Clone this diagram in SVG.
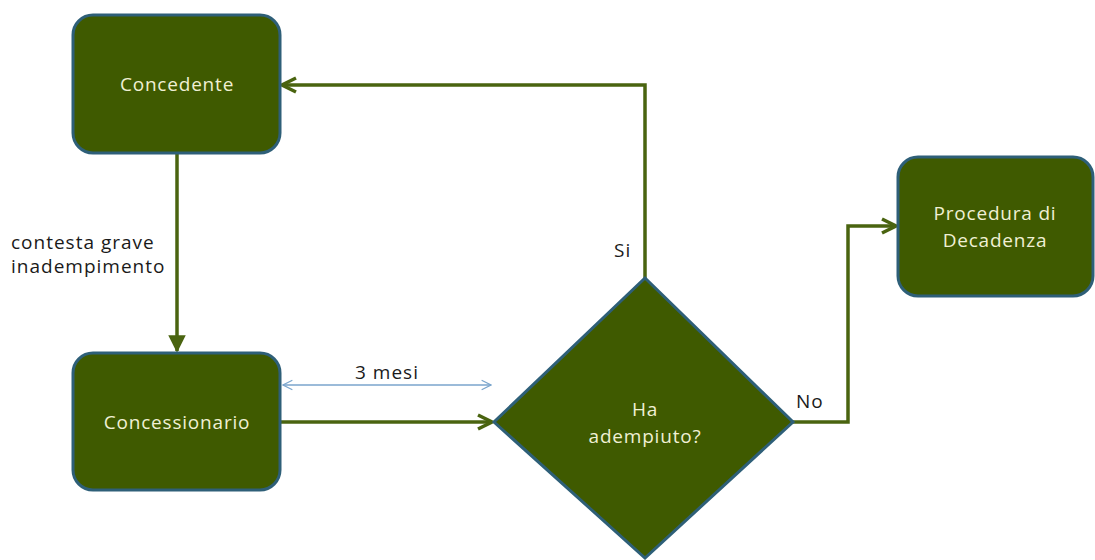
<svg xmlns="http://www.w3.org/2000/svg" width="1095" height="560" viewBox="0 0 1095 560">
<style>
.node{fill:#3f5a00;stroke:#2e5f78;stroke-width:3}
.nt{font-family:"Open Sans","Liberation Sans",sans-serif;font-size:19px;letter-spacing:0.8px;fill:#f0f0d4;text-anchor:middle}
.lt{font-family:"Open Sans","Liberation Sans",sans-serif;font-size:19px;letter-spacing:1px;fill:#1a1a1a}
.conn{fill:none;stroke:#4a6410;stroke-width:3.5}
.dim{fill:none;stroke:#7aa5cc;stroke-width:1.3}
</style>
<defs>
<marker id="ah" viewBox="0 0 10 10" refX="9" refY="5" markerWidth="5" markerHeight="5" markerUnits="strokeWidth" orient="auto">
<path d="M1,1 L9,5 L1,9" fill="none" stroke="#4a6410" stroke-width="2"/>
</marker>
<marker id="ah2" viewBox="0 0 10 10" refX="9" refY="5" markerWidth="9" markerHeight="9" markerUnits="strokeWidth" orient="auto-start-reverse">
<path d="M1,1 L9,5 L1,9" fill="none" stroke="#7aa5cc" stroke-width="1"/>
</marker>
<marker id="ahf" viewBox="0 0 10 10" refX="9" refY="5" markerWidth="5" markerHeight="5" markerUnits="strokeWidth" orient="auto">
<path d="M0,0 L10,5 L0,10 Z" fill="#4a6410"/>
</marker>
</defs>
<rect width="1095" height="560" fill="#ffffff"/>
<g id="connectors">
<path class="conn" d="M177,153 V351" marker-end="url(#ahf)"/>
<path class="conn" d="M280,422 H492" marker-end="url(#ah)"/>
<path class="conn" d="M645,278 V85 H282" marker-end="url(#ah)"/>
<path class="conn" d="M792,422 H848 V226 H896" marker-end="url(#ah)"/>
<path class="dim" d="M283,385 H491" marker-start="url(#ah2)" marker-end="url(#ah2)"/>
<text class="lt" x="387" y="379" text-anchor="middle">3 mesi</text>
<text class="lt" x="11" y="249">contesta grave</text>
<text class="lt" x="11" y="273">inadempimento</text>
<text class="lt" x="614" y="257">Si</text>
<text class="lt" x="796" y="408">No</text>
</g>
<g id="concedente">
<rect class="node" x="73" y="15" width="207" height="138" rx="20"/>
<text class="nt" x="177" y="91">Concedente</text>
</g>
<g id="concessionario">
<rect class="node" x="73" y="353" width="207" height="137" rx="20"/>
<text class="nt" x="177" y="429">Concessionario</text>
</g>
<g id="decisione">
<polygon class="node" points="645,278 793,422 645,558 494,422"/>
<text class="nt" x="645" y="416">Ha</text>
<text class="nt" x="645" y="443">adempiuto?</text>
</g>
<g id="procedura">
<rect class="node" x="898" y="157" width="195" height="139" rx="20"/>
<text class="nt" x="995" y="220">Procedura di</text>
<text class="nt" x="995" y="247">Decadenza</text>
</g>
</svg>
